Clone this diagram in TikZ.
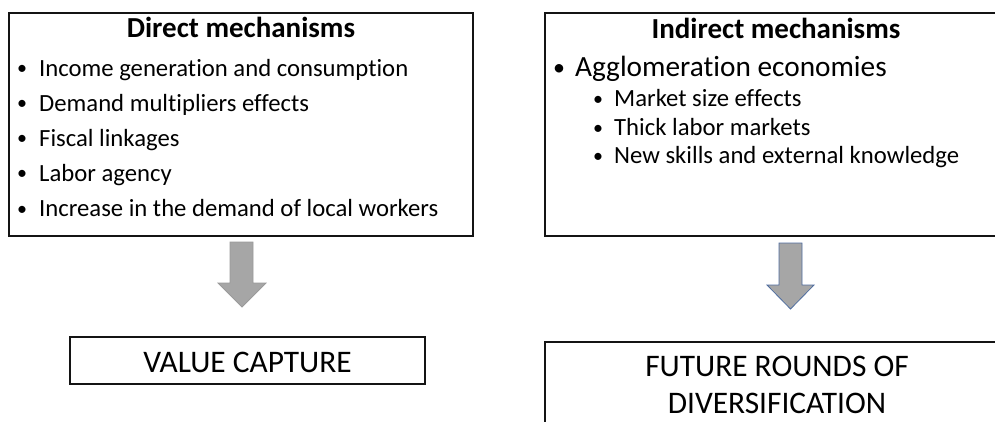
\documentclass[tikz,border=0pt]{standalone}
\usepackage{fontspec}
\setmainfont{Carlito}[Ligatures=NoCommon]
\definecolor{arrowgray}{HTML}{A6A6A6}
\definecolor{arrowedge}{HTML}{9A9A9A}
\definecolor{arrowblue}{HTML}{4F6D9F}
\begin{document}
\begin{tikzpicture}[x=1pt,y=-1pt,
  box/.style={draw=black!92,line width=1.6pt,inner sep=0pt},
  headtext/.style={anchor=base,inner sep=0pt,font=\bfseries\fontsize{29}{34}\selectfont},
  itemtext/.style={anchor=base west,inner sep=0pt,font=\fontsize{24.7}{29}\selectfont},
  dot/.style={anchor=base west,inner sep=0pt,font=\fontsize{20}{24}\selectfont},
  bigdot/.style={anchor=base west,inner sep=0pt,font=\fontsize{24}{28}\selectfont},
  bigitem/.style={anchor=base west,inner sep=0pt,font=\fontsize{29.3}{34}\selectfont},
  subitem/.style={anchor=base west,inner sep=0pt,font=\fontsize{24.7}{29}\selectfont},
  outtext/.style={anchor=base,inner sep=0pt,font=\fontsize{31.4}{36}\selectfont},
  blockarrow/.style={fill=arrowgray,line width=0.8pt,line join=miter}
]
\useasboundingbox (0,0) rectangle (995,422);

% ---- boxes ----
\draw[box] (9,13) rectangle (473,236);
\draw[box] (545,13) rectangle (1007,236);
\draw[box] (70,337) rectangle (425,384);
\draw[box] (545,342) rectangle (1009,470);

% ---- direct mechanisms ----
\node[headtext] (dtitle) at (241,37.5) {Direct mechanisms};
\foreach \y/\t [count=\i] in {76.5/Income generation and consumption,
                    111.5/Demand multipliers effects,
                    146.5/Fiscal linkages,
                    181.5/Labor agency,
                    216.5/Increase in the demand of local workers}{
  \node[dot] (db\i) at (17,\y-1.5) {•};
  \node[itemtext] (di\i) at (39,\y) {\t};
}

% ---- indirect mechanisms ----
\node[headtext] (ititle) at (776,39) {Indirect mechanisms};
\node[bigdot] (ib0) at (553,75.5) {•};
\node[bigitem] (ii0) at (575,77) {Agglomeration economies};
\foreach \y/\t [count=\i] in {107/Market size effects,
                    135.5/Thick labor markets,
                    164/New skills and external knowledge}{
  \node[dot] (ib\i) at (593,\y-1) {•};
  \node[subitem] (ii\i) at (614,\y) {\t};
}

% ---- outcomes ----
\node[outtext] (value) at (247.5,372) {VALUE CAPTURE};
\node[outtext] (future1) at (777,376) {FUTURE ROUNDS OF};
\node[outtext] (future2) at (777,413) {DIVERSIFICATION};

% ---- block arrows ----
\draw[blockarrow,draw=arrowedge]
  (230,242) -- (253,242) -- (253,283) -- (266,283) -- (242,307)
  -- (218,283) -- (230,283) -- cycle;
\draw[blockarrow,draw=arrowblue]
  (779,243) -- (802,243) -- (802,285) -- (814,285) -- (790.5,309)
  -- (767,285) -- (779,285) -- cycle;
\end{tikzpicture}
\end{document}
